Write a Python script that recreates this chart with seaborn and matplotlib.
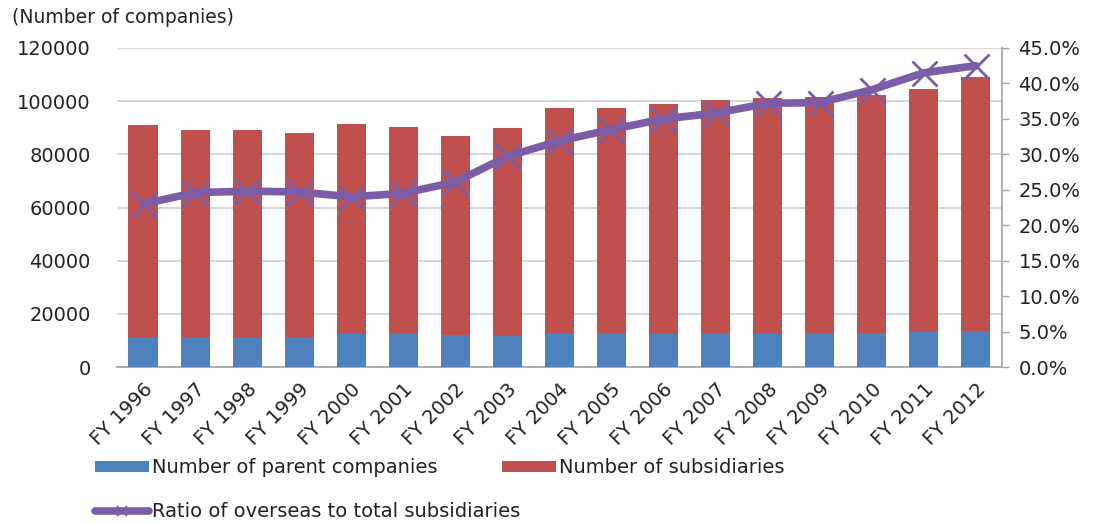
import numpy as np
import pandas as pd
import matplotlib
matplotlib.use("Agg")
import matplotlib.pyplot as plt
import seaborn as sns
from matplotlib.patches import Patch
from matplotlib.lines import Line2D
from matplotlib.ticker import FuncFormatter, MultipleLocator

years = ["FY 1996", "FY 1997", "FY 1998", "FY 1999", "FY 2000", "FY 2001", "FY 2002",
         "FY 2003", "FY 2004", "FY 2005", "FY 2006", "FY 2007", "FY 2008", "FY 2009",
         "FY 2010", "FY 2011", "FY 2012"]
parents = [11400, 11200, 11300, 11400, 12600, 12700, 12100, 11600, 12800, 12600,
           12300, 12300, 12300, 12500, 12800, 13100, 13400]
subsidiaries = [79600, 78000, 77900, 76600, 78800, 77600, 74800, 78300, 84600, 84800,
                86600, 88100, 88900, 89100, 89500, 91500, 95700]
ratio = [23.0, 24.6, 24.8, 24.7, 24.0, 24.5, 26.1, 29.7, 31.9, 33.5, 35.0, 35.8,
         37.2, 37.3, 39.1, 41.5, 42.5]

C_BLUE = "#4F81BD"
C_RED = "#C0504D"
C_LINE = "#7B5CA6"
C_GRID = "#D0D0D0"
TXT = "#222222"

sns.set_theme(style="white")
plt.rcParams["font.family"] = ["DejaVu Sans"]

df = pd.DataFrame({"year": years, "parents": parents, "subs": subsidiaries, "ratio": ratio})
df["total"] = df["parents"] + df["subs"]
df["pos"] = np.arange(len(df))

fig = plt.figure(figsize=(10.99, 5.24), dpi=100)
ax = fig.add_axes([0.1065, 0.2996, 0.805, 0.6088])

sns.barplot(data=df, x="year", y="total", color=C_RED, saturation=1, width=0.56, ax=ax,
            zorder=2, linewidth=0, edgecolor="none")
sns.barplot(data=df, x="year", y="parents", color=C_BLUE, saturation=1, width=0.56, ax=ax,
            zorder=3, linewidth=0, edgecolor="none")

ax.set_ylim(0, 120000)
ax.yaxis.set_major_locator(MultipleLocator(20000))
ax.set_xlim(-0.5, len(df) - 0.5)
ax.grid(axis="y", color=C_GRID, linewidth=1.2, zorder=0)
ax.set_axisbelow(True)
ax.set_xlabel("")
ax.set_ylabel("")
for s in ["left", "top", "right"]:
    ax.spines[s].set_visible(False)
ax.spines["bottom"].set_color("#A6A6A6")
ax.tick_params(axis="y", length=0, pad=19, labelsize=14, labelcolor=TXT)
ax.tick_params(axis="x", length=0, pad=9, labelsize=14, labelcolor=TXT)
for lab in ax.get_xticklabels():
    lab.set_rotation(45)
    lab.set_ha("right")
    lab.set_rotation_mode("anchor")

ax2 = ax.twinx()
sns.lineplot(data=df, x="pos", y="ratio", color=C_LINE, linewidth=5.5, marker="x",
             markersize=18, markeredgewidth=2.0, markeredgecolor=C_LINE, sort=False, ax=ax2, zorder=5)
ax2.set_ylim(0, 45)
ax2.yaxis.set_major_locator(MultipleLocator(5))
ax2.yaxis.set_major_formatter(FuncFormatter(lambda v, p: f"{v:.1f}%"))
ax2.set_ylabel("")
ax2.set_xlabel("")
ax2.set_xlim(-0.5, len(df) - 0.5)
for s in ["left", "top", "bottom"]:
    ax2.spines[s].set_visible(False)
ax2.spines["right"].set_color("#A6A6A6")
ax2.tick_params(axis="y", length=5, width=1, color="#A6A6A6", direction="out", pad=7,
                labelsize=14, labelcolor=TXT, right=True)
ax2.grid(False)

fig.text(0.011, 0.967, "(Number of companies)", fontsize=13.5, color=TXT, va="center", ha="left")

leg1 = fig.legend([Patch(facecolor=C_BLUE, edgecolor="none"), Patch(facecolor=C_RED, edgecolor="none")],
                  ["Number of parent companies", "Number of subsidiaries"],
                  ncol=2, loc="center left", bbox_to_anchor=(0.0864, 0.107),
                  frameon=False, fontsize=14, handlelength=2.8, handleheight=0.55,
                  handletextpad=0.15, columnspacing=3.3, borderpad=0, borderaxespad=0)
for t in leg1.get_texts():
    t.set_color(TXT)
leg2 = fig.legend([Line2D([0], [0], color=C_LINE, linewidth=5.5, marker="x", markersize=7,
                          markeredgewidth=1.2)],
                  ["Ratio of overseas to total subsidiaries"],
                  loc="center left", bbox_to_anchor=(0.0864, 0.023),
                  frameon=False, fontsize=14, handlelength=2.8, handletextpad=0.15,
                  borderpad=0, borderaxespad=0)
for t in leg2.get_texts():
    t.set_color(TXT)

fig.savefig("out.png", dpi=100)
